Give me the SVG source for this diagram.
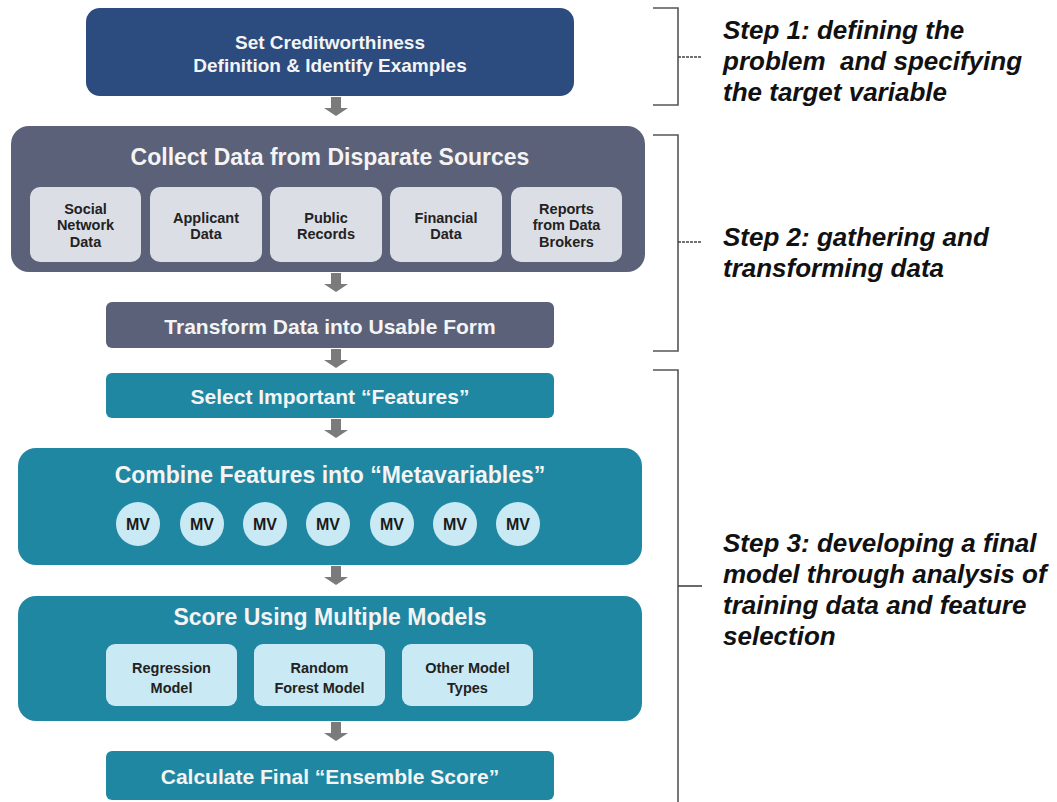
<svg xmlns="http://www.w3.org/2000/svg" width="1057" height="802" viewBox="0 0 1057 802">
  <defs>
    <style>
      .navy { fill: #2c4b7e; }
      .slate { fill: #5b6179; }
      .teal { fill: #1f87a2; }
      .grey-card { fill: #dcdee5; }
      .blue-card { fill: #c9e9f4; }
      .title { font-family: "Liberation Sans", Arial, sans-serif; font-weight: bold; fill: #f4f4f4; text-anchor: middle; }
      .card { font-family: "Liberation Sans", Arial, sans-serif; font-weight: bold; fill: #222; text-anchor: middle; font-size: 14.5px; }
      .mv { font-family: "Liberation Sans", Arial, sans-serif; font-weight: bold; fill: #1a1a1a; text-anchor: middle; font-size: 16px; }
      .step { font-family: "Liberation Sans", Arial, sans-serif; font-weight: bold; font-style: italic; fill: #111; font-size: 26px; }
      .arrow { fill: #7b7b7b; }
      .bracket { fill: none; stroke: #555; stroke-width: 1.6; }
      .tick { stroke: #444; stroke-width: 1.6; }
    </style>
  </defs>
  <rect width="1057" height="802" fill="#ffffff"/>

  <!-- flow arrows between stages -->
  <g id="connectors">
    <path class="arrow" d="M331,97 H341 V108 H348 L336,116 L324,108 H331 Z"/>
    <path class="arrow" d="M331,273 H341 V284 H348 L336,292 L324,284 H331 Z"/>
    <path class="arrow" d="M331,349 H341 V360 H348 L336,368 L324,360 H331 Z"/>
    <path class="arrow" d="M331,419 H341 V430 H348 L336,438 L324,430 H331 Z"/>
    <path class="arrow" d="M331,566 H341 V577 H348 L336,585 L324,577 H331 Z"/>
    <path class="arrow" d="M331,722 H341 V733 H348 L336,741 L324,733 H331 Z"/>
  </g>

  <g id="define">
    <rect class="navy" x="86" y="8" width="488" height="88" rx="14"/>
    <text class="title" x="330" y="49" font-size="19">Set Creditworthiness</text>
    <text class="title" x="330" y="72" font-size="19">Definition &amp; Identify Examples</text>
  </g>

  <g id="collect">
    <rect class="slate" x="11" y="126" width="634" height="146" rx="18"/>
    <text class="title" x="330" y="165" font-size="23">Collect Data from Disparate Sources</text>
    <g id="src-social">
      <rect class="grey-card" x="30" y="187" width="111" height="75" rx="10"/>
      <text class="card" x="85.5" y="214">Social</text>
      <text class="card" x="85.5" y="230">Network</text>
      <text class="card" x="85.5" y="247">Data</text>
    </g>
    <g id="src-applicant">
      <rect class="grey-card" x="150" y="187" width="112" height="75" rx="10"/>
      <text class="card" x="206" y="223">Applicant</text>
      <text class="card" x="206" y="239">Data</text>
    </g>
    <g id="src-public">
      <rect class="grey-card" x="270" y="187" width="112" height="75" rx="10"/>
      <text class="card" x="326" y="223">Public</text>
      <text class="card" x="326" y="239">Records</text>
    </g>
    <g id="src-financial">
      <rect class="grey-card" x="390" y="187" width="112" height="75" rx="10"/>
      <text class="card" x="446" y="223">Financial</text>
      <text class="card" x="446" y="239">Data</text>
    </g>
    <g id="src-brokers">
      <rect class="grey-card" x="511" y="187" width="111" height="75" rx="10"/>
      <text class="card" x="566.5" y="214">Reports</text>
      <text class="card" x="566.5" y="230">from Data</text>
      <text class="card" x="566.5" y="247">Brokers</text>
    </g>
  </g>

  <g id="transform">
    <rect class="slate" x="106" y="302" width="448" height="46" rx="6"/>
    <text class="title" x="330" y="334" font-size="21">Transform Data into Usable Form</text>
  </g>

  <g id="select">
    <rect class="teal" x="106" y="373" width="448" height="45" rx="6"/>
    <text class="title" x="330" y="404" font-size="21">Select Important “Features”</text>
  </g>

  <g id="combine">
    <rect class="teal" x="18" y="448" width="624" height="117" rx="18"/>
    <text class="title" x="330" y="483" font-size="23">Combine Features into “Metavariables”</text>
    <g id="metavariables">
      <circle class="blue-card" cx="138" cy="524" r="22"/>
      <text class="mv" x="138" y="530">MV</text>
      <circle class="blue-card" cx="202" cy="524" r="22"/>
      <text class="mv" x="202" y="530">MV</text>
      <circle class="blue-card" cx="265" cy="524" r="22"/>
      <text class="mv" x="265" y="530">MV</text>
      <circle class="blue-card" cx="328" cy="524" r="22"/>
      <text class="mv" x="328" y="530">MV</text>
      <circle class="blue-card" cx="392" cy="524" r="22"/>
      <text class="mv" x="392" y="530">MV</text>
      <circle class="blue-card" cx="455" cy="524" r="22"/>
      <text class="mv" x="455" y="530">MV</text>
      <circle class="blue-card" cx="518" cy="524" r="22"/>
      <text class="mv" x="518" y="530">MV</text>
    </g>
  </g>

  <g id="score">
    <rect class="teal" x="18" y="596" width="624" height="125" rx="18"/>
    <text class="title" x="330" y="625" font-size="23">Score Using Multiple Models</text>
    <g id="model-regression">
      <rect class="blue-card" x="106" y="644" width="131" height="62" rx="9"/>
      <text class="card" x="171.5" y="673">Regression</text>
      <text class="card" x="171.5" y="693">Model</text>
    </g>
    <g id="model-forest">
      <rect class="blue-card" x="254" y="644" width="131" height="62" rx="9"/>
      <text class="card" x="319.5" y="673">Random</text>
      <text class="card" x="319.5" y="693">Forest Model</text>
    </g>
    <g id="model-other">
      <rect class="blue-card" x="402" y="644" width="131" height="62" rx="9"/>
      <text class="card" x="467.5" y="673">Other Model</text>
      <text class="card" x="467.5" y="693">Types</text>
    </g>
  </g>

  <g id="ensemble">
    <rect class="teal" x="106" y="751" width="448" height="49" rx="6"/>
    <text class="title" x="330" y="784" font-size="21">Calculate Final “Ensemble Score”</text>
  </g>

  <!-- step brackets and captions -->
  <g id="step1">
    <path class="bracket" d="M653,8 H678 V105 H653"/>
    <line class="tick" x1="678" y1="57" x2="702" y2="57" stroke-dasharray="3,1"/>
    <text class="step" x="723" y="39">Step 1: defining the</text>
    <text class="step" x="723" y="70">problem&#160; and specifying</text>
    <text class="step" x="723" y="101">the target variable</text>
  </g>
  <g id="step2">
    <path class="bracket" d="M653,135 H678 V351 H653"/>
    <line class="tick" x1="678" y1="242" x2="702" y2="242" stroke-dasharray="3,1"/>
    <text class="step" x="723" y="246">Step 2: gathering and</text>
    <text class="step" x="723" y="277">transforming data</text>
  </g>
  <g id="step3">
    <path class="bracket" d="M653,370 H678 V802"/>
    <line class="tick" x1="678" y1="586" x2="702" y2="586"/>
    <text class="step" x="723" y="552">Step 3: developing a final</text>
    <text class="step" x="723" y="583">model through analysis of</text>
    <text class="step" x="723" y="614">training data and feature</text>
    <text class="step" x="723" y="645">selection</text>
  </g>
</svg>
